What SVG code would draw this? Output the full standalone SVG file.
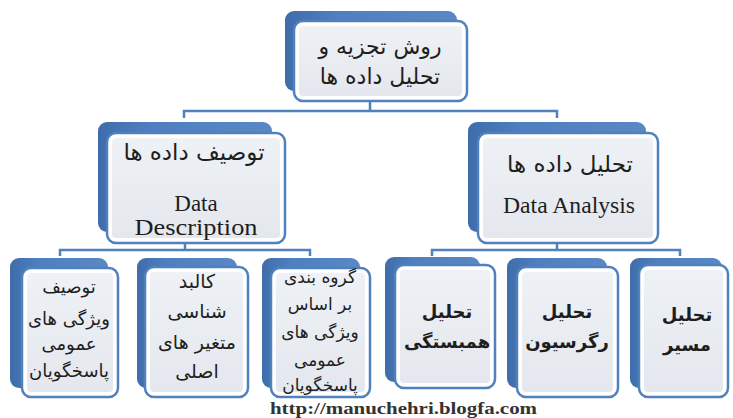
<svg xmlns="http://www.w3.org/2000/svg" width="733" height="418" viewBox="0 0 733 418">
<defs>
<linearGradient id="backg" x1="0" y1="0" x2="1" y2="0">
<stop offset="0" stop-color="#3f6dab"/>
<stop offset="0.3" stop-color="#4f7fc0"/>
<stop offset="1" stop-color="#5a88c6"/>
</linearGradient>
<linearGradient id="innerg" x1="0" y1="0" x2="0" y2="1">
<stop offset="0" stop-color="#eef1f5"/>
<stop offset="1" stop-color="#e4e8ee"/>
</linearGradient>
</defs>
<style>
.back{fill:url(#backg);}
.front{fill:#ffffff;stroke:#4f81bd;stroke-width:2.5;}
.inner{fill:url(#innerg);}
.conn{fill:none;stroke:#4f81bd;stroke-width:2.5;}
.fa{font-family:"DejaVu Sans",sans-serif;fill:#1e1e1e;text-anchor:middle;}
.en{font-family:"Liberation Serif",serif;fill:#1e1e1e;text-anchor:middle;}
.url{font-family:"Liberation Serif",serif;fill:#333333;font-size:17px;font-weight:bold;}
</style>
<rect width="733" height="418" fill="#ffffff"/>
<g id="connectors">
<path class="conn" d="M370,101 V111 M184,118 V111 H557 V118"/>
<path class="conn" d="M185,243 V250 M60,256 V250 H310 V256"/>
<path class="conn" d="M557,243 V250 M432,256 V250 H680 V256"/>
</g>
<g id="node-root">
<rect class="back" x="285" y="11" width="172" height="80" rx="9"/>
<rect class="front" x="294" y="21" width="173" height="80" rx="9"/>
<rect class="inner" x="299" y="26" width="163" height="70" rx="4"/>
<text class="fa" font-size="22" x="380" y="54">روش تجزیه و</text>
<text class="fa" font-size="22" x="380" y="84">تحلیل داده ها</text>
</g>
<g id="node-description">
<rect class="back" x="98" y="122" width="174" height="110" rx="9"/>
<rect class="front" x="107" y="133" width="178" height="110" rx="9"/>
<rect class="inner" x="112" y="138" width="168" height="100" rx="4"/>
<text class="fa" font-size="23" x="194" y="160">توصیف داده ها</text>
<text class="en" font-size="23" x="196" y="211">Data</text>
<text class="en" font-size="23" x="196" y="235" textLength="123" lengthAdjust="spacingAndGlyphs">Description</text>
</g>
<g id="node-analysis">
<rect class="back" x="468" y="122" width="178" height="110" rx="9"/>
<rect class="front" x="478" y="133" width="180" height="110" rx="9"/>
<rect class="inner" x="483" y="138" width="170" height="100" rx="4"/>
<text class="fa" font-size="23" x="570" y="172">تحلیل داده ها</text>
<text class="en" font-size="23" x="569" y="213" textLength="132" lengthAdjust="spacingAndGlyphs">Data Analysis</text>
</g>
<g id="node-general">
<rect class="back" x="10" y="258" width="98" height="130" rx="9"/>
<rect class="front" x="22" y="268" width="96" height="129" rx="9"/>
<rect class="inner" x="27" y="273" width="86" height="119" rx="4"/>
<text class="fa" font-size="18" x="69" y="293">توصیف</text>
<text class="fa" font-size="18" x="69" y="325">ویژگی های</text>
<text class="fa" font-size="18" x="69" y="350">عمومی</text>
<text class="fa" font-size="18" x="69" y="377">پاسخگویان</text>
</g>
<g id="node-variables">
<rect class="back" x="137" y="258" width="100" height="130" rx="9"/>
<rect class="front" x="145" y="267" width="103" height="130" rx="9"/>
<rect class="inner" x="150" y="272" width="93" height="120" rx="4"/>
<text class="fa" font-size="19" x="197" y="288">کالبد</text>
<text class="fa" font-size="19" x="197" y="318">شناسی</text>
<text class="fa" font-size="19" x="197" y="349">متغیر های</text>
<text class="fa" font-size="19" x="197" y="378">اصلی</text>
</g>
<g id="node-grouping">
<rect class="back" x="262" y="258" width="98" height="130" rx="9"/>
<rect class="front" x="271" y="268" width="99" height="129" rx="9"/>
<rect class="inner" x="276" y="273" width="89" height="119" rx="4"/>
<text class="fa" font-size="17" x="320" y="283">گروه بندی</text>
<text class="fa" font-size="17" x="320" y="310">بر اساس</text>
<text class="fa" font-size="17" x="320" y="338">ویژگی های</text>
<text class="fa" font-size="17" x="320" y="366">عمومی</text>
<text class="fa" font-size="17" x="320" y="391">پاسخگویان</text>
</g>
<g id="node-correlation">
<rect class="back" x="385" y="257" width="95" height="125" rx="9"/>
<rect class="front" x="395" y="265" width="100" height="123" rx="9"/>
<rect class="inner" x="400" y="270" width="90" height="113" rx="4"/>
<text class="fa" font-size="18" font-weight="bold" x="447" y="318">تحلیل</text>
<text class="fa" font-size="18" font-weight="bold" x="447" y="348">همبستگی</text>
</g>
<g id="node-regression">
<rect class="back" x="507" y="258" width="100" height="130" rx="9"/>
<rect class="front" x="517" y="267" width="101" height="130" rx="9"/>
<rect class="inner" x="522" y="272" width="91" height="120" rx="4"/>
<text class="fa" font-size="18" font-weight="bold" x="567" y="318">تحلیل</text>
<text class="fa" font-size="18" font-weight="bold" x="567" y="348">رگرسیون</text>
</g>
<g id="node-path">
<rect class="back" x="630" y="258" width="92" height="130" rx="9"/>
<rect class="front" x="639" y="265" width="89" height="132" rx="9"/>
<rect class="inner" x="644" y="270" width="79" height="122" rx="4"/>
<text class="fa" font-size="18" font-weight="bold" x="687" y="321">تحلیل</text>
<text class="fa" font-size="18" font-weight="bold" x="687" y="351">مسیر</text>
</g>
<text class="url" x="270" y="414" textLength="267" lengthAdjust="spacingAndGlyphs">http://manuchehri.blogfa.com</text>
</svg>
